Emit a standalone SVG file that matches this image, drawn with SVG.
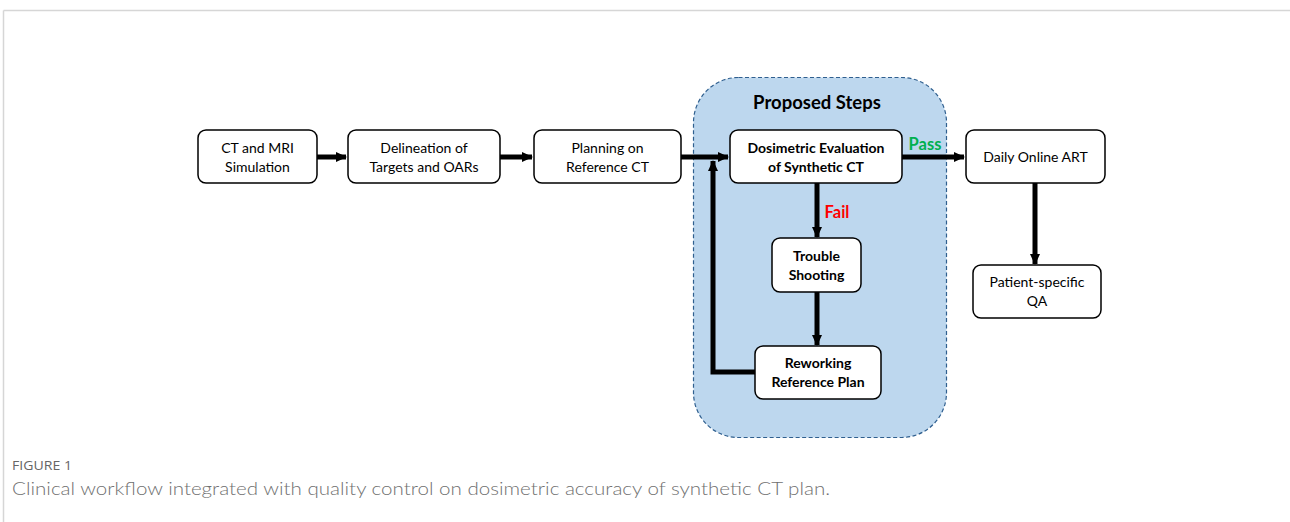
<svg xmlns="http://www.w3.org/2000/svg" width="1290" height="522" viewBox="0 0 1290 522">
<style>
.box{fill:#fff;stroke:#000;stroke-width:1.5}
.t{font-family:Lato,"Open Sans",sans-serif;font-size:14px;fill:#000;text-anchor:middle}
.b{font-weight:bold}
.c{fill:none;stroke:#000;stroke-width:5}
</style>
<defs>
<marker id="ah" markerUnits="userSpaceOnUse" markerWidth="12" markerHeight="12" refX="10" refY="6" orient="auto">
<path d="M0,1 L11,6 L0,11 Z" fill="#000"/>
</marker>
</defs>
<rect x="0" y="0" width="1290" height="522" fill="#fff"/>
<line x1="3.5" y1="10.5" x2="1290" y2="10.5" stroke="#d6d6d6" stroke-width="1.5"/>
<line x1="3.5" y1="10.5" x2="3.5" y2="522" stroke="#d6d6d6" stroke-width="1.5"/>
<g id="proposed">
<rect x="693.5" y="77.5" width="253" height="360" rx="45" fill="#BDD7EE" stroke="#2F5F8F" stroke-width="1.2" stroke-dasharray="4,2.5"/>
<text class="t b" x="817" y="109" style="font-size:18.5px">Proposed Steps</text>
</g>
<g id="connectors">
<line class="c" x1="317" y1="157" x2="346" y2="157" marker-end="url(#ah)"/>
<line class="c" x1="500" y1="157" x2="532" y2="157" marker-end="url(#ah)"/>
<line class="c" x1="681" y1="157" x2="728" y2="157" marker-end="url(#ah)"/>
<line class="c" x1="902" y1="157" x2="964" y2="157" marker-end="url(#ah)"/>
<line class="c" x1="817" y1="183" x2="817" y2="237" marker-end="url(#ah)"/>
<line class="c" x1="817" y1="292" x2="817" y2="345" marker-end="url(#ah)"/>
<polyline class="c" points="755,372 713,372 713,161" marker-end="url(#ah)"/>
<line class="c" x1="1035" y1="183" x2="1035" y2="264" marker-end="url(#ah)"/>
<text x="925" y="150" font-family="Lato,'Open Sans',sans-serif" font-size="16.5" font-weight="bold" fill="#00B050" text-anchor="middle">Pass</text>
<text x="837" y="218" font-family="Lato,'Open Sans',sans-serif" font-size="16.5" font-weight="bold" fill="#FF0000" text-anchor="middle">Fail</text>
</g>
<g id="ct-mri">
<rect class="box" x="198" y="130" width="119" height="53" rx="8"/>
<text class="t" x="257.5" y="153">CT and MRI</text>
<text class="t" x="257.5" y="172">Simulation</text>
</g>
<g id="delineation">
<rect class="box" x="348" y="130" width="152" height="53" rx="8"/>
<text class="t" x="424" y="153">Delineation of</text>
<text class="t" x="424" y="172">Targets and OARs</text>
</g>
<g id="planning">
<rect class="box" x="534" y="130" width="147" height="53" rx="8"/>
<text class="t" x="607.5" y="153">Planning on</text>
<text class="t" x="607.5" y="172">Reference CT</text>
</g>
<g id="dosimetric">
<rect class="box" x="730" y="130" width="172" height="53" rx="8"/>
<text class="t b" x="816" y="153">Dosimetric Evaluation</text>
<text class="t b" x="816" y="172">of Synthetic CT</text>
</g>
<g id="daily">
<rect class="box" x="966" y="130" width="139" height="53" rx="8"/>
<text class="t" x="1035.5" y="162">Daily Online ART</text>
</g>
<g id="patient-qa">
<rect class="box" x="973" y="265" width="128" height="53" rx="8"/>
<text class="t" x="1037" y="287">Patient-specific</text>
<text class="t" x="1037" y="306">QA</text>
</g>
<g id="trouble">
<rect class="box" x="772" y="238" width="89" height="54" rx="8"/>
<text class="t b" x="816.5" y="261">Trouble</text>
<text class="t b" x="816.5" y="280">Shooting</text>
</g>
<g id="reworking">
<rect class="box" x="755" y="346" width="126" height="53" rx="8"/>
<text class="t b" x="818" y="368">Reworking</text>
<text class="t b" x="818" y="387">Reference Plan</text>
</g>
<text x="12" y="470" font-family="'Open Sans',Lato,sans-serif" font-size="13" fill="#666" textLength="60" lengthAdjust="spacingAndGlyphs">FIGURE 1</text>
<text x="12" y="495" font-family="Lato,'Open Sans',sans-serif" font-size="17" font-weight="300" fill="#707070" textLength="818" lengthAdjust="spacingAndGlyphs">Clinical workflow integrated with quality control on dosimetric accuracy of synthetic CT plan.</text>
</svg>
